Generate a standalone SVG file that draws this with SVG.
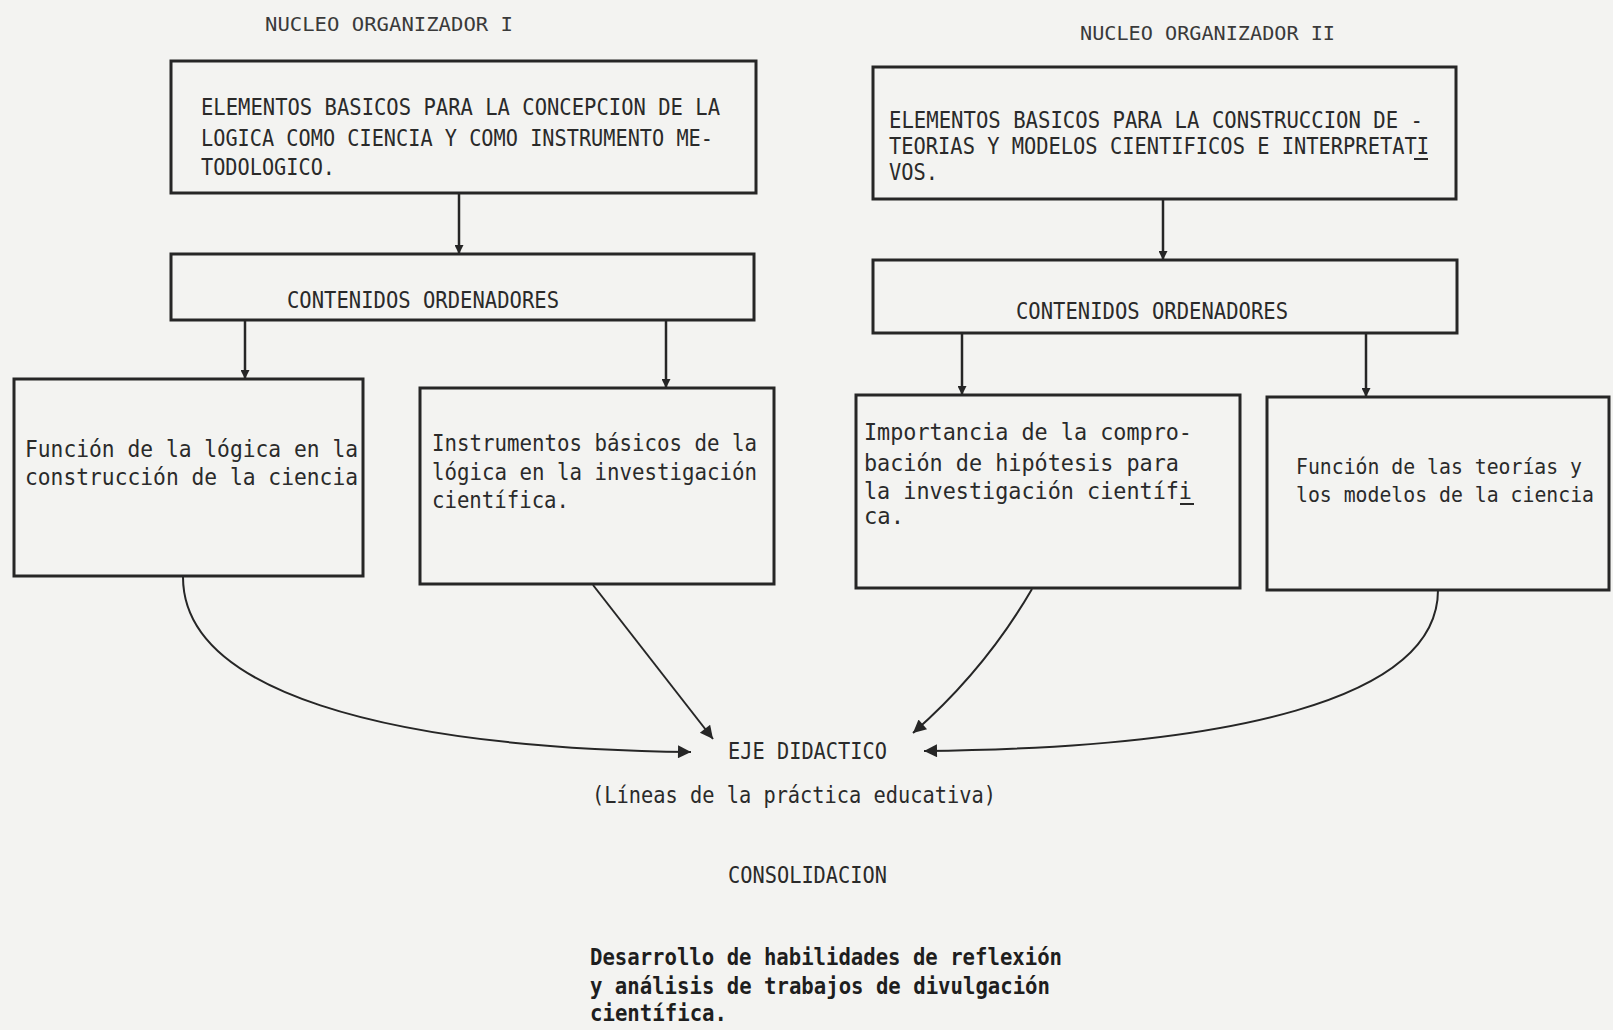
<svg xmlns="http://www.w3.org/2000/svg" width="1613" height="1030" viewBox="0 0 1613 1030">
<style>
.bx{fill:none;stroke:#262626;stroke-width:3}
.t{font-family:"DejaVu Sans Mono","Liberation Mono",monospace;font-size:23px;fill:#2a2a2a}
.s{font-size:20.5px}
.h{font-family:"DejaVu Sans Mono","Liberation Mono",monospace;font-size:20px;fill:#3a3a3a}
.b{font-family:"DejaVu Sans Mono","Liberation Mono",monospace;font-size:23px;fill:#1e1e1e;font-weight:bold}
.c{fill:none;stroke:#262626;stroke-width:2}
.v{fill:none;stroke:#262626;stroke-width:2.5}
</style>
<defs>
<marker id="sm" viewBox="0 0 10 10" refX="10" refY="5" markerUnits="userSpaceOnUse" markerWidth="11" markerHeight="9" orient="auto"><path d="M0,0 L10,5 L0,10 z" fill="#262626"/></marker>
<marker id="lg" viewBox="0 0 10 10" refX="10" refY="5" markerUnits="userSpaceOnUse" markerWidth="24" markerHeight="13" orient="auto"><path d="M0,0 L10,5 L0,10 z" fill="#262626"/></marker>
</defs>
<rect width="1613" height="1030" fill="#f3f3f1"/>

<g id="connectors">
<line class="v" x1="459" y1="193" x2="459" y2="254" marker-end="url(#sm)"/>
<line class="v" x1="1163" y1="199" x2="1163" y2="260" marker-end="url(#sm)"/>
<line class="v" x1="245" y1="320" x2="245" y2="379" marker-end="url(#sm)"/>
<line class="v" x1="666" y1="320" x2="666" y2="388" marker-end="url(#sm)"/>
<line class="v" x1="962" y1="333" x2="962" y2="395" marker-end="url(#sm)"/>
<line class="v" x1="1366" y1="333" x2="1366" y2="397" marker-end="url(#sm)"/>
<path class="c" d="M183,577 C183,690 380,748 691,752" marker-end="url(#lg)"/>
<path class="c" d="M593,585 L713,739" marker-end="url(#lg)"/>
<path class="c" d="M1032,589 Q985,670 913,733" marker-end="url(#lg)"/>
<path class="c" d="M1438,590 C1438,700 1230,748 924,751" marker-end="url(#lg)"/>
</g>

<g id="hdr1"><text class="h" x="265" y="31" textLength="248" lengthAdjust="spacingAndGlyphs">NUCLEO ORGANIZADOR I</text></g>
<g id="hdr2"><text class="h" x="1080" y="40" textLength="255" lengthAdjust="spacingAndGlyphs">NUCLEO ORGANIZADOR II</text></g>

<g id="n1">
<rect class="bx" x="171" y="61" width="585" height="132"/>
<text class="t" x="201" y="115" textLength="519" lengthAdjust="spacingAndGlyphs">ELEMENTOS BASICOS PARA LA CONCEPCION DE LA</text>
<text class="t" x="201" y="146" textLength="512" lengthAdjust="spacingAndGlyphs">LOGICA COMO CIENCIA Y COMO INSTRUMENTO ME-</text>
<text class="t" x="201" y="175" textLength="134" lengthAdjust="spacingAndGlyphs">TODOLOGICO.</text>
</g>

<g id="n2">
<rect class="bx" x="171" y="254" width="583" height="66"/>
<text class="t" x="287" y="308" textLength="272" lengthAdjust="spacingAndGlyphs">CONTENIDOS ORDENADORES</text>
</g>

<g id="n3">
<rect class="bx" x="14" y="379" width="349" height="197"/>
<text class="t" x="25" y="457" textLength="333" lengthAdjust="spacingAndGlyphs">Función de la lógica en la</text>
<text class="t" x="25" y="485" textLength="333" lengthAdjust="spacingAndGlyphs">construcción de la ciencia</text>
</g>

<g id="n4">
<rect class="bx" x="420" y="388" width="354" height="196"/>
<text class="t" x="432" y="451" textLength="325" lengthAdjust="spacingAndGlyphs">Instrumentos básicos de la</text>
<text class="t" x="432" y="480" textLength="325" lengthAdjust="spacingAndGlyphs">lógica en la investigación</text>
<text class="t" x="432" y="508" textLength="137" lengthAdjust="spacingAndGlyphs">científica.</text>
</g>

<g id="n5">
<rect class="bx" x="873" y="67" width="583" height="132"/>
<text class="t" x="889" y="128" textLength="534" lengthAdjust="spacingAndGlyphs">ELEMENTOS BASICOS PARA LA CONSTRUCCION DE -</text>
<text class="t" x="889" y="154" textLength="540" lengthAdjust="spacingAndGlyphs">TEORIAS Y MODELOS CIENTIFICOS E INTERPRETATI</text>
<line x1="1414" y1="159" x2="1428" y2="159" stroke="#2a2a2a" stroke-width="2"/>
<text class="t" x="889" y="180" textLength="49" lengthAdjust="spacingAndGlyphs">VOS.</text>
</g>

<g id="n6">
<rect class="bx" x="873" y="260" width="584" height="73"/>
<text class="t" x="1016" y="319" textLength="272" lengthAdjust="spacingAndGlyphs">CONTENIDOS ORDENADORES</text>
</g>

<g id="n7">
<rect class="bx" x="856" y="395" width="384" height="193"/>
<text class="t" x="864" y="440" textLength="328" lengthAdjust="spacingAndGlyphs">Importancia de la compro-</text>
<text class="t" x="864" y="471" textLength="315" lengthAdjust="spacingAndGlyphs">bación de hipótesis para</text>
<text class="t" x="864" y="499" textLength="328" lengthAdjust="spacingAndGlyphs">la investigación científi</text>
<line x1="1180" y1="504" x2="1194" y2="504" stroke="#2a2a2a" stroke-width="2"/>
<text class="t" x="864" y="524" textLength="40" lengthAdjust="spacingAndGlyphs">ca.</text>
</g>

<g id="n8">
<rect class="bx" x="1267" y="397" width="342" height="193"/>
<text class="t s" x="1296" y="474" textLength="286" lengthAdjust="spacingAndGlyphs">Función de las teorías y</text>
<text class="t s" x="1296" y="502" textLength="298" lengthAdjust="spacingAndGlyphs">los modelos de la ciencia</text>
</g>

<g id="eje">
<text class="t" x="728" y="759" textLength="159" lengthAdjust="spacingAndGlyphs">EJE DIDACTICO</text>
<text class="t" x="592" y="803" textLength="404" lengthAdjust="spacingAndGlyphs">(Líneas de la práctica educativa)</text>
</g>

<g id="consolidacion">
<text class="t" x="728" y="883" textLength="159" lengthAdjust="spacingAndGlyphs">CONSOLIDACION</text>
<text class="b" x="590" y="965" textLength="472" lengthAdjust="spacingAndGlyphs">Desarrollo de habilidades de reflexión</text>
<text class="b" x="590" y="994" textLength="460" lengthAdjust="spacingAndGlyphs">y análisis de trabajos de divulgación</text>
<text class="b" x="590" y="1021" textLength="137" lengthAdjust="spacingAndGlyphs">científica.</text>
</g>
</svg>
